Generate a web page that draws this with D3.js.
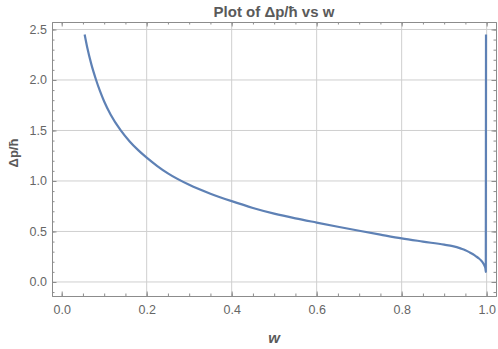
<!DOCTYPE html>
<html>
<head>
<meta charset="utf-8">
<script src="https://cdn.jsdelivr.net/npm/d3@7"></script>
<style>
  body { margin: 0; background: #fff; }
  text { font-family: "Liberation Sans", Arial, sans-serif; }
  .axis path { stroke: #8c8c8c; }
  .axis line { stroke: #8c8c8c; }
  .axis text { fill: #666; font-size: 12.5px; }
</style>
</head>
<body>
<div id="chart"></div>
<script>
// values
var wValues = [0.054, 0.06, 0.07, 0.081, 0.09, 0.1, 0.115, 0.139, 0.16, 0.18, 0.2, 0.225, 0.25, 0.3,
  0.35, 0.4, 0.45, 0.5, 0.55, 0.6, 0.65, 0.7, 0.75, 0.8, 0.85, 0.9, 0.92, 0.94, 0.95,
  0.96, 0.968, 0.975, 0.982, 0.987, 0.991, 0.994, 0.996, 0.9973, 0.998, 0.9985];
var dpValues = [2.45, 2.324, 2.152, 2.00, 1.891, 1.787, 1.658, 1.50, 1.391, 1.305, 1.231, 1.148, 1.075, 0.962,
  0.874, 0.800, 0.733, 0.677, 0.630, 0.588, 0.547, 0.507, 0.469, 0.432, 0.400, 0.369, 0.355, 0.330, 0.314,
  0.293, 0.274, 0.254, 0.232, 0.212, 0.191, 0.170, 0.150, 0.128, 0.10, 2.45];
var xTicks = [0.0, 0.2, 0.4, 0.6, 0.8, 1.0];
var yTicks = [0.0, 0.5, 1.0, 1.5, 2.0, 2.5];

var data = wValues.map(function(w, i) { return {w: w, dp: dpValues[i]}; });

var margin = {top: 22, right: 2, bottom: 53, left: 52},
  fullWidth = 498,
  fullHeight = 349,
  width = fullWidth - margin.left - margin.right,
  height = fullHeight - margin.top - margin.bottom;

var xScale = d3.scaleLinear().domain([-0.0228, 1.022]).range([0, width]);
var yScale = d3.scaleLinear().domain([-0.139, 2.574]).range([height, 0]);

var xMinor = d3.range(0, 21).map(function(i) { return i * 0.05; });
var yMinor = d3.range(-1, 26).map(function(i) { return i * 0.1; });

var svg = d3.select('#chart').append('svg')
  .attr('width', fullWidth)
  .attr('height', fullHeight)
  .append('g')
  .attr('transform', 'translate(' + margin.left + ',' + margin.top + ')');

// grid lines
svg.selectAll('.vgrid').data(xTicks.slice(1)).enter().append('line')
  .attr('x1', function(d) { return xScale(d); })
  .attr('x2', function(d) { return xScale(d); })
  .attr('y1', 0).attr('y2', height)
  .attr('stroke', '#cfcfcf').attr('stroke-width', 1);
svg.selectAll('.hgrid').data(yTicks).enter().append('line')
  .attr('x1', 0).attr('x2', width)
  .attr('y1', function(d) { return yScale(d); })
  .attr('y2', function(d) { return yScale(d); })
  .attr('stroke', '#cfcfcf').attr('stroke-width', 1);

// minor ticks on every side
svg.append('g').attr('class', 'axis').attr('transform', 'translate(0,' + height + ')')
  .call(d3.axisBottom(xScale).tickValues(xMinor).tickSize(-2.5).tickFormat('').tickSizeOuter(0));
svg.append('g').attr('class', 'axis')
  .call(d3.axisTop(xScale).tickValues(xMinor).tickSize(-2.5).tickFormat('').tickSizeOuter(0));
svg.append('g').attr('class', 'axis')
  .call(d3.axisLeft(yScale).tickValues(yMinor).tickSize(-2.5).tickFormat('').tickSizeOuter(0));
svg.append('g').attr('class', 'axis').attr('transform', 'translate(' + width + ',0)')
  .call(d3.axisRight(yScale).tickValues(yMinor).tickSize(-2.5).tickFormat('').tickSizeOuter(0));

// major ticks
svg.append('g').attr('class', 'axis').attr('transform', 'translate(0,' + height + ')')
  .call(d3.axisBottom(xScale).tickValues(xTicks).tickSize(-4.5).tickSizeOuter(0)
    .tickPadding(9).tickFormat(d3.format('.1f')));
svg.append('g').attr('class', 'axis')
  .call(d3.axisTop(xScale).tickValues(xTicks).tickSize(-4.5).tickFormat('').tickSizeOuter(0));
svg.append('g').attr('class', 'axis')
  .call(d3.axisLeft(yScale).tickValues(yTicks).tickSize(-4.5).tickSizeOuter(0)
    .tickPadding(5).tickFormat(d3.format('.1f')));
svg.append('g').attr('class', 'axis').attr('transform', 'translate(' + width + ',0)')
  .call(d3.axisRight(yScale).tickValues(yTicks).tickSize(-4.5).tickFormat('').tickSizeOuter(0));

// the curve
var line = d3.line()
  .x(function(d) { return xScale(d.w); })
  .y(function(d) { return yScale(d.dp); })
  .curve(d3.curveMonotoneX);

svg.append('path')
  .datum(data)
  .attr('d', line)
  .attr('fill', 'none')
  .attr('stroke', '#5E81B5')
  .attr('stroke-width', 2.2)
  .attr('stroke-linejoin', 'round');

// title
svg.append('text')
  .attr('x', width / 2)
  .attr('y', -5.5)
  .attr('text-anchor', 'middle')
  .style('font-size', '15px')
  .style('font-weight', 'bold')
  .style('fill', '#5a5a5a')
  .text('Plot of Δp/ħ vs w');

// axis labels
svg.append('text')
  .attr('transform', 'translate(' + (width / 2) + ',' + (height + 47) + ')')
  .attr('text-anchor', 'middle')
  .style('font-size', '15px')
  .style('font-weight', 'bold')
  .style('font-style', 'italic')
  .style('fill', '#5a5a5a')
  .text('w');

svg.append('text')
  .attr('transform', 'rotate(-90)')
  .attr('x', -(height / 2) + 6)
  .attr('y', -34)
  .attr('text-anchor', 'middle')
  .style('font-size', '13px')
  .style('font-weight', 'bold')
  .style('fill', '#5a5a5a')
  .text('Δp/ħ');
</script>
</body>
</html>
